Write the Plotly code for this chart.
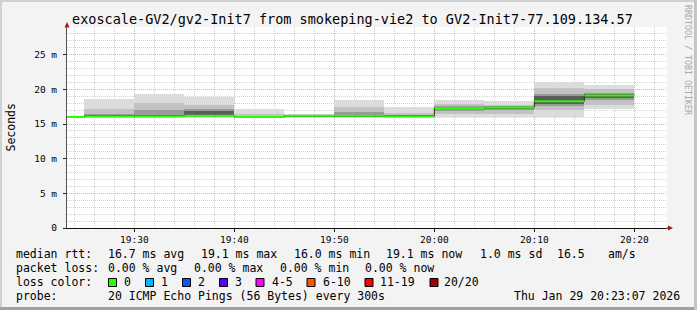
import plotly.graph_objects as go
from datetime import datetime, timedelta

# ---------------- data ----------------
interval_start = ["2026-01-29 19:20:00", "2026-01-29 19:25:00", "2026-01-29 19:30:00",
                  "2026-01-29 19:35:00", "2026-01-29 19:40:00", "2026-01-29 19:45:00",
                  "2026-01-29 19:50:00", "2026-01-29 19:55:00", "2026-01-29 20:00:00",
                  "2026-01-29 20:05:00", "2026-01-29 20:10:00", "2026-01-29 20:15:00"]
median_ms = [16.0, 16.1, 16.1, 16.2, 16.0, 16.2, 16.2, 16.1, 17.3, 17.4, 18.3, 19.1]

# smoke bands (outer -> inner), ms
band1_low = [15.95, 16.0, 16.0, 16.0, 15.95, 16.1, 16.0, 16.0, 16.0, 16.0, 16.0, 17.1]
band1_high = [16.1, 18.6, 19.3, 18.9, 17.1, 16.4, 18.4, 17.4, 18.4, 18.3, 21.0, 20.7]
band2_low = [15.95, 16.0, 16.0, 16.1, 15.95, 16.1, 16.05, 16.0, 16.4, 16.5, 17.0, 17.8]
band2_high = [16.05, 17.1, 18.1, 17.8, 16.4, 16.3, 17.5, 16.6, 17.9, 17.8, 20.2, 20.0]
band3_low = [16.0, 16.05, 16.05, 16.1, 16.0, 16.15, 16.1, 16.05, 16.9, 17.0, 17.6, 18.4]
band3_high = [16.05, 16.5, 17.0, 17.2, 16.2, 16.25, 16.8, 16.3, 17.6, 17.6, 19.4, 19.5]
band4_low = [16.0, 16.05, 16.05, 16.15, 16.0, 16.15, 16.15, 16.05, 17.1, 17.2, 17.9, 18.7]
band4_high = [16.05, 16.2, 16.3, 16.9, 16.1, 16.2, 16.3, 16.2, 17.45, 17.5, 19.1, 19.4]
band_colors = ["#dcdcdc", "#c2c2c2", "#9a9a9a", "#5c5c5c"]

ytick_vals = [0, 5, 10, 15, 20, 25]
ytick_text = ["0", "5 m", "10 m", "15 m", "20 m", "25 m"]
xtick_vals = ["2026-01-29 19:30:00", "2026-01-29 19:40:00", "2026-01-29 19:50:00",
              "2026-01-29 20:00:00", "2026-01-29 20:10:00", "2026-01-29 20:20:00"]
xtick_text = ["19:30", "19:40", "19:50", "20:00", "20:10", "20:20"]

loss_labels = ["0", "1", "2", "3", "4-5", "6-10", "11-19", "20/20"]
loss_colors = ["#26ff00", "#00b8ff", "#0059ff", "#5e00ff", "#ff00ff", "#ff5500", "#ff0000", "#a10000"]

title_text = "exoscale-GV2/gv2-Init7 from smokeping-vie2 to GV2-Init7-77.109.134.57"
rtt_items = ["median rtt:", "16.7 ms avg", "19.1 ms max", "16.0 ms min", "19.1 ms now", "1.0 ms sd", "16.5", "am/s"]
loss_items = ["packet loss:", "0.00 % avg", "0.00 % max", "0.00 % min", "0.00 % now"]
probe_items = ["probe:", "20 ICMP Echo Pings (56 Bytes) every 300s"]
date_text = "Thu Jan 29 20:23:07 2026"

# ---------------- layout geometry ----------------
W, H = 697, 310
ML, MR, MT, MB = 67, 30, 27, 82
PW = W - ML - MR
PH = H - MT - MB
FONT = "DejaVu Sans Mono"


def px(x):
    return (x - ML) / PW


def py(y):
    return (MT + PH - y) / PH


step = timedelta(seconds=300)
starts = [datetime.strptime(s, "%Y-%m-%d %H:%M:%S") for s in interval_start]
centers = [s + step / 2 for s in starts]

fig = go.Figure()

bands = [(band1_low, band1_high), (band2_low, band2_high), (band3_low, band3_high), (band4_low, band4_high)]
for (lo, hi), col in zip(bands, band_colors):
    fig.add_trace(go.Bar(x=centers, y=[h - l for l, h in zip(lo, hi)], base=lo,
                         width=[300000] * len(centers), marker=dict(color=col, line=dict(width=0)),
                         showlegend=False, hoverinfo="skip"))

# dark step connectors
fig.add_trace(go.Scatter(x=starts + [starts[-1] + step], y=median_ms + [median_ms[-1]],
                         mode="lines", line=dict(color="#3a1a1a", width=1, shape="hv"),
                         showlegend=False, hoverinfo="skip"))
# green median segments
gx, gy = [], []
for s, m in zip(starts, median_ms):
    gx += [s, s + step, None]
    gy += [m, m, None]
fig.add_trace(go.Scatter(x=gx, y=gy, mode="lines", line=dict(color=loss_colors[0], width=2),
                         showlegend=False, hoverinfo="skip"))

grid_minor = "#d2d2d2"
grid_major = "#f0a8a8"

fig.update_layout(
    width=W, height=H,
    margin=dict(l=ML, r=MR, t=MT, b=MB, pad=0),
    paper_bgcolor="#f3f3f3", plot_bgcolor="#ffffff",
    barmode="overlay", bargap=0,
    font=dict(family=FONT, color="#000000", size=11.5),
    xaxis=dict(
        type="date",
        range=["2026-01-29 19:23:16", "2026-01-29 20:23:16"],
        tickvals=xtick_vals, ticktext=xtick_text,
        tickfont=dict(size=9.5, family=FONT, color="#000"),
        ticks="outside", ticklen=3, tickcolor="#222",
        showgrid=True, gridcolor=grid_major, griddash="1px,1px", gridwidth=1,
        minor=dict(dtick=120000, tick0="2026-01-29 19:30:00", showgrid=True,
                   gridcolor=grid_minor, griddash="1px,1px", gridwidth=1, ticks=""),
        showline=True, linecolor="#111", linewidth=1,
        zeroline=False, fixedrange=True,
    ),
    yaxis=dict(
        range=[0, 29],
        tickvals=ytick_vals, ticktext=ytick_text,
        tickfont=dict(size=9.5, family=FONT, color="#000"),
        ticks="outside", ticklen=3, tickcolor="#222", ticklabelstandoff=4,
        showgrid=True, gridcolor=grid_major, griddash="1px,1px", gridwidth=1,
        minor=dict(dtick=1, showgrid=True, gridcolor=grid_minor, griddash="1px,1px",
                   gridwidth=1, ticks=""),
        showline=True, linecolor="#555", linewidth=1,
        zeroline=False, fixedrange=True,
    ),
)

ann = []


def text(x, y, s, size=11.5, xanchor="left", color="#000", angle=0):
    ann.append(dict(xref="paper", yref="paper", x=px(x), y=py(y), text=s, showarrow=False,
                    xanchor=xanchor, yanchor="middle", textangle=angle,
                    font=dict(family=FONT, size=size, color=color), borderpad=0))


text(71, 19.3, title_text, size=13.5)
text(10, 127.5, "Seconds", xanchor="center", angle=-90)
text(688, 60, "RRDTOOL / TOBI OETIKER", size=8.3, xanchor="center", color="#a8a8a8", angle=90)

rtt_x = [15, 107, 199.5, 292.5, 384.5, 478.5, 555.5, 606.5]
for s, x in zip(rtt_items, rtt_x):
    text(x, 254.3, s)
loss_x = [15, 107, 192.5, 278.5, 363.5]
for s, x in zip(loss_items, loss_x):
    text(x, 267.7, s)
text(15, 282, "loss color:")
box_x = [108.5, 145.5, 182.5, 219.5, 256, 307, 365, 430]
lab_x = [122.5, 159.5, 196.5, 233.5, 270.5, 321.5, 378.5, 443.5]
shapes = []
for lab, col, bx, lx in zip(loss_labels, loss_colors, box_x, lab_x):
    shapes.append(dict(type="rect", xref="paper", yref="paper",
                       x0=px(bx), x1=px(bx + 8), y0=py(278.5), y1=py(286.5),
                       fillcolor=col, line=dict(color="#000", width=1), layer="above"))
    text(lx, 282, lab)
for s, x in zip(probe_items, [15, 107]):
    text(x, 296, s)
text(681, 296, date_text, xanchor="right")

# axis arrows
shapes.append(dict(type="path", xref="paper", yref="paper",
                   path=f"M {px(64.5)} {py(27.5)} L {px(69.5)} {py(27.5)} L {px(67)} {py(22)} Z",
                   fillcolor="#9b1b1b", line=dict(width=0), layer="above"))
shapes.append(dict(type="line", xref="paper", yref="paper", x0=px(667), x1=px(669), y0=py(228), y1=py(228),
                   line=dict(color="#111", width=1), layer="above"))
shapes.append(dict(type="path", xref="paper", yref="paper",
                   path=f"M {px(668)} {py(225.5)} L {px(668)} {py(230.5)} L {px(673)} {py(228)} Z",
                   fillcolor="#9b1b1b", line=dict(width=0), layer="above"))
# image frame
shapes.append(dict(type="line", xref="paper", yref="paper", x0=px(0), x1=px(697), y0=py(1), y1=py(1),
                   line=dict(color="#d0d0d0", width=2), layer="above"))
shapes.append(dict(type="line", xref="paper", yref="paper", x0=px(1), x1=px(1), y0=py(0), y1=py(310),
                   line=dict(color="#d0d0d0", width=2), layer="above"))
shapes.append(dict(type="line", xref="paper", yref="paper", x0=px(0), x1=px(697), y0=py(308.5), y1=py(308.5),
                   line=dict(color="#a0a0a0", width=3), layer="above"))
shapes.append(dict(type="line", xref="paper", yref="paper", x0=px(695.5), x1=px(695.5), y0=py(0), y1=py(310),
                   line=dict(color="#c4c4c4", width=3), layer="above"))

fig.update_layout(annotations=ann, shapes=shapes)
fig.write_html("out.html")
